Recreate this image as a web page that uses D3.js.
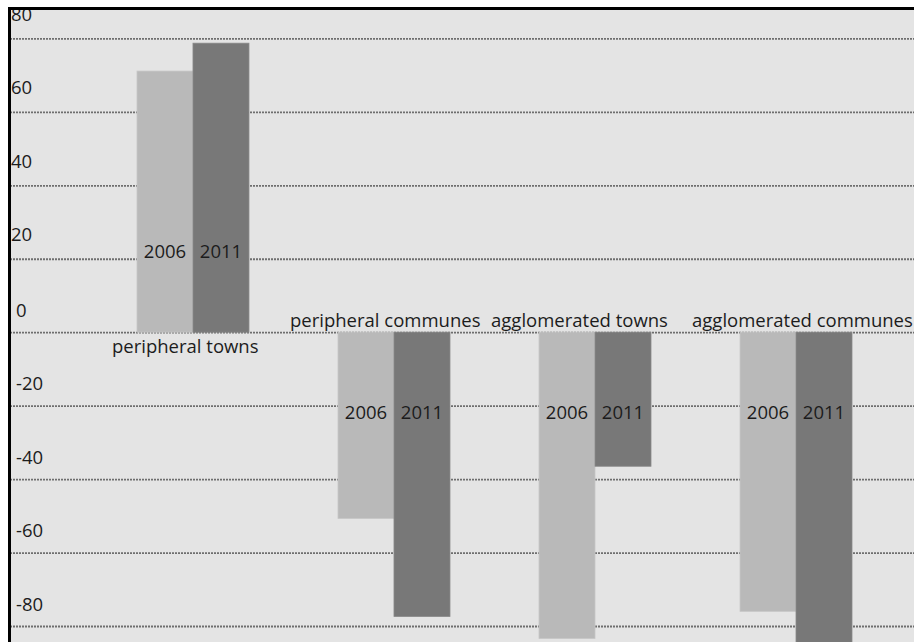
<!DOCTYPE html>
<html>
<head>
<meta charset="utf-8">
<script src="https://cdn.jsdelivr.net/npm/d3@7"></script>
<style>
  html, body { margin: 0; padding: 0; background: #ffffff; }
  svg { display: block; }
  text { font-family: "Open Sans", "Noto Sans", sans-serif; fill: #1c1c1c; }
</style>
</head>
<body>
<svg id="chart" width="914" height="642"></svg>
<script>
// Change in counts by area type, 2006 vs 2011
const categories = ["peripheral towns", "peripheral communes", "agglomerated towns", "agglomerated communes"];
const years = ["2006", "2011"];
const values2006 = [71.1, -50.7, -83.4, -76.0];
const values2011 = [78.7, -77.4, -36.5, -90.0];
const yTicks = [-80, -60, -40, -20, 0, 20, 40, 60, 80];

const W = 914, H = 642;
const frameLeft = 10, frameTop = 10;

const svg = d3.select("#chart");

// panel background
svg.append("rect")
  .attr("x", frameLeft - 2).attr("y", frameTop - 3)
  .attr("width", W).attr("height", H)
  .attr("fill", "#e4e4e4");

const y = d3.scaleLinear().domain([-80, 80]).range([626, 38.4]);

const x = d3.scaleBand()
  .domain(categories)
  .range([36.5, 952.5])
  .paddingInner(0.443)
  .paddingOuter(0.5);

const xs = d3.scaleBand().domain(years).range([0, x.bandwidth()]);

// horizontal dotted gridlines with labels sitting above each line
const grid = svg.append("g")
  .attr("transform", `translate(${frameLeft},0)`)
  .call(d3.axisRight(y).tickValues(yTicks).tickSize(W).tickFormat(d => String(d)));
grid.select(".domain").remove();
grid.selectAll(".tick line")
  .attr("stroke", "#6e6e6e")
  .attr("stroke-width", 1.8)
  .attr("stroke-dasharray", "2,1");
grid.selectAll(".tick text")
  .attr("x", d => d > 0 ? 1 : 6)
  .attr("dy", d => d > 0 ? -18 : -16)
  .attr("text-anchor", "start")
  .style("font-size", "18.5px")
  .style("fill", "#1c1c1c");

const rows = categories.map((c, i) => ({ cat: c, vals: [values2006[i], values2011[i]] }));
const fills = { "2006": "#b9b9b9", "2011": "#787878" };
const edges = { "2006": "#c6c6c6", "2011": "#888888" };

const groups = svg.append("g").selectAll("g")
  .data(rows).join("g")
  .attr("transform", d => `translate(${x(d.cat)},0)`);

groups.selectAll("rect")
  .data(d => years.map((yr, j) => ({ yr, v: d.vals[j] })))
  .join("rect")
  .attr("x", d => xs(d.yr))
  .attr("width", xs.bandwidth())
  .attr("y", d => y(Math.max(0, d.v)))
  .attr("height", d => Math.abs(y(d.v) - y(0)))
  .attr("fill", d => fills[d.yr])
  .attr("stroke", d => edges[d.yr])
  .attr("stroke-width", 0.8);

// year labels inside the bars
groups.selectAll("text.yr")
  .data(d => years.map((yr, j) => ({ yr, v: d.vals[j] })))
  .join("text")
  .attr("class", "yr")
  .attr("x", d => xs(d.yr) + xs.bandwidth() / 2)
  .attr("y", d => y(d.v > 0 ? 22 : -22))
  .attr("dy", "0.35em")
  .attr("text-anchor", "middle")
  .style("font-size", "18.5px")
  .text(d => d.yr);

// category names on the opposite side of the zero line
groups.append("text")
  .attr("x", d => d.vals[0] > 0 ? -25 : -48)
  .attr("y", d => d.vals[0] > 0 ? y(0) + 21 : y(0) - 5)
  .attr("text-anchor", "start")
  .style("font-size", "18.5px")
  .text(d => d.cat);

// frame lines on top and left
svg.append("rect").attr("x", 0).attr("y", 0).attr("width", W).attr("height", 7).attr("fill", "#ffffff");
svg.append("rect").attr("x", 0).attr("y", 0).attr("width", 8).attr("height", H).attr("fill", "#ffffff");
svg.append("rect").attr("x", 8).attr("y", 7).attr("width", W).attr("height", 3).attr("fill", "#000000");
svg.append("rect").attr("x", 8).attr("y", 7).attr("width", 3).attr("height", H).attr("fill", "#000000");
</script>
</body>
</html>
